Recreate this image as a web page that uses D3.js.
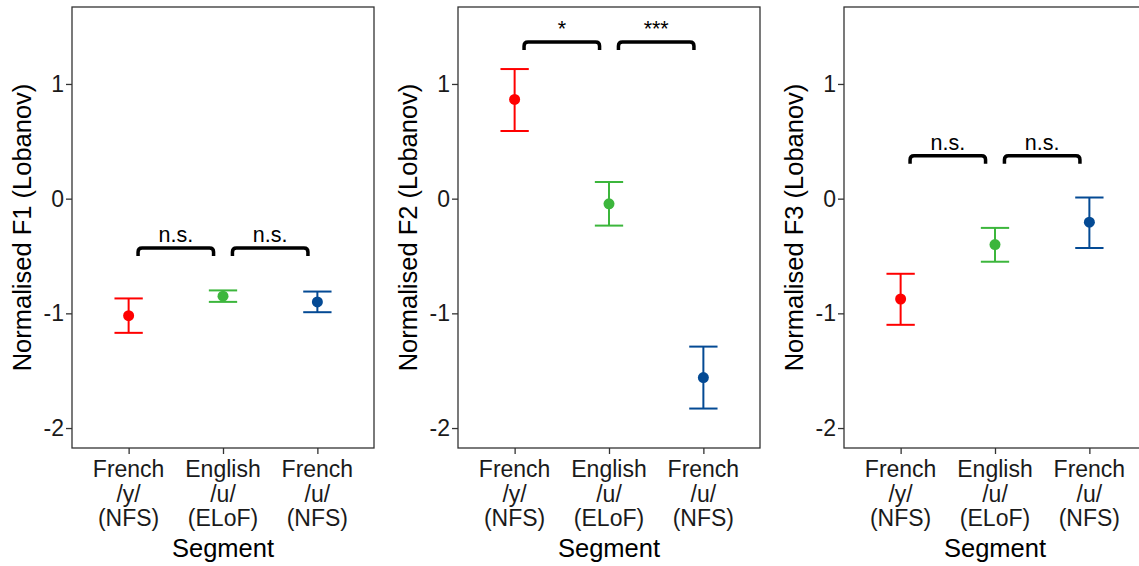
<!DOCTYPE html>
<html>
<head>
<meta charset="utf-8">
<script src="https://cdn.jsdelivr.net/npm/d3@7"></script>
<style>
  body { margin: 0; background: #fff; }
  text { font-family: "Liberation Sans", Arial, sans-serif; }
</style>
</head>
<body>
<div id="chart"></div>
<script>
// categories (one label line per entry)
const segments = [
  ["French", "/y/", "(NFS)"],
  ["English", "/u/", "(ELoF)"],
  ["French", "/u/", "(NFS)"]
]
const segColors = ["#ff0000", "#3cb63c", "#044a94"]
const formants = ["F1", "F2", "F3"]

// means and error bar ends, one array per formant
const meanF1 = [-1.02, -0.85, -0.90]
const lowF1 = [-1.17, -0.90, -0.99]
const highF1 = [-0.87, -0.80, -0.81]

const meanF2 = [0.865, -0.045, -1.56]
const lowF2 = [0.59, -0.235, -1.83]
const highF2 = [1.13, 0.145, -1.29]

const meanF3 = [-0.875, -0.40, -0.205]
const lowF3 = [-1.10, -0.55, -0.43]
const highF3 = [-0.655, -0.255, 0.01]

// significance brackets
const bracketY = [-0.43, 1.365, 0.375]
const bracketLabels = [["n.s.", "n.s."], ["*", "***"], ["n.s.", "n.s."]]

const yTicks = [-2, -1, 0, 1]
const yDomain = [-2.174, 1.671]

const panels = [
  { mean: meanF1, low: lowF1, high: highF1 },
  { mean: meanF2, low: lowF2, high: highF2 },
  { mean: meanF3, low: lowF3, high: highF3 }
]

const w = 1139, h = 566
const panelStep = 386
const plotLeft = 72, plotTop = 7, plotW = 302, plotH = 441

const svg = d3.select('#chart')
  .append('svg')
  .attr('width', w)
  .attr('height', h)

const xScale = d3.scalePoint()
  .domain([0, 1, 2])
  .range([0, plotW])
  .padding(0.6)

const yScale = d3.scaleLinear()
  .domain(yDomain)
  .range([plotH, 0])

panels.forEach((p, k) => {
  const g = svg.append('g')
    .attr('transform', 'translate(' + (plotLeft + k * panelStep) + ',' + plotTop + ')')

  // y axis (plain hyphen minus like the original)
  const yAxis = d3.axisLeft(yScale)
    .tickValues(yTicks)
    .tickFormat(d => String(d))
    .tickSize(6)
    .tickPadding(2)
  g.append('g').call(yAxis)
    .call(a => a.select('.domain').remove())
    .call(a => a.selectAll('.tick line').attr('stroke', '#333').attr('stroke-width', 1.3))
    .call(a => a.selectAll('.tick text').attr('font-size', 23).attr('fill', '#1a1a1a'))

  // x axis
  const xAxis = d3.axisBottom(xScale).tickSize(6).tickFormat('')
  g.append('g')
    .attr('transform', 'translate(0,' + plotH + ')')
    .call(xAxis)
    .call(a => a.select('.domain').remove())
    .call(a => a.selectAll('.tick line').attr('stroke', '#333').attr('stroke-width', 1.3))

  // multi-line category labels
  g.selectAll('.cat')
    .data(segments)
    .enter()
    .append('text')
    .attr('class', 'cat')
    .attr('text-anchor', 'middle')
    .attr('font-size', 23)
    .attr('fill', '#1a1a1a')
    .attr('y', plotH + 29)
    .selectAll('tspan')
    .data((d, i) => d.map(s => ({ s: s, i: i })))
    .enter()
    .append('tspan')
    .attr('x', d => xScale(d.i))
    .attr('dy', (d, j) => j === 0 ? 0 : 24.5)
    .text(d => d.s)

  // panel border
  g.append('rect')
    .attr('width', plotW)
    .attr('height', plotH)
    .attr('fill', 'none')
    .attr('stroke', '#333')
    .attr('stroke-width', 1.3)

  // axis titles
  g.append('text')
    .attr('x', plotW / 2)
    .attr('y', 549.5)
    .attr('text-anchor', 'middle')
    .attr('font-size', 25.5)
    .text('Segment')

  g.append('text')
    .attr('transform', 'translate(' + (-41) + ',' + (plotH / 2) + ') rotate(-90)')
    .attr('text-anchor', 'middle')
    .attr('font-size', 25.5)
    .text('Normalised ' + formants[k] + ' (Lobanov)')

  // error bars
  const rows = p.mean.map((m, i) => ({ i: i, m: m, lo: p.low[i], hi: p.high[i] }))
  const capW = 0.3 * xScale.step()

  const eb = g.selectAll('.eb')
    .data(rows)
    .enter()
    .append('g')
    .attr('stroke', d => segColors[d.i])
    .attr('stroke-width', 2)

  eb.append('line')
    .attr('x1', d => xScale(d.i)).attr('x2', d => xScale(d.i))
    .attr('y1', d => yScale(d.lo)).attr('y2', d => yScale(d.hi))
  eb.append('line')
    .attr('x1', d => xScale(d.i) - capW / 2).attr('x2', d => xScale(d.i) + capW / 2)
    .attr('y1', d => yScale(d.lo)).attr('y2', d => yScale(d.lo))
  eb.append('line')
    .attr('x1', d => xScale(d.i) - capW / 2).attr('x2', d => xScale(d.i) + capW / 2)
    .attr('y1', d => yScale(d.hi)).attr('y2', d => yScale(d.hi))

  g.selectAll('.pt')
    .data(rows)
    .enter()
    .append('circle')
    .attr('cx', d => xScale(d.i))
    .attr('cy', d => yScale(d.m))
    .attr('r', 5.5)
    .attr('fill', d => segColors[d.i])

  // brackets between neighbouring segments
  const inset = 0.1 * xScale.step()
  const by = yScale(bracketY[k])
  bracketLabels[k].forEach((lab, j) => {
    const x1 = xScale(j) + inset
    const x2 = xScale(j + 1) - inset
    const r = 4
    g.append('path')
      .attr('d', 'M' + x1 + ',' + (by + 8) + 'L' + x1 + ',' + (by + r) +
        'Q' + x1 + ',' + by + ' ' + (x1 + r) + ',' + by +
        'L' + (x2 - r) + ',' + by +
        'Q' + x2 + ',' + by + ' ' + x2 + ',' + (by + r) +
        'L' + x2 + ',' + (by + 8))
      .attr('fill', 'none')
      .attr('stroke', '#000')
      .attr('stroke-width', 3.5)

    g.append('text')
      .attr('x', (x1 + x2) / 2)
      .attr('y', by - 6)
      .attr('text-anchor', 'middle')
      .attr('font-size', 21.5)
      .text(lab)
  })
})
</script>
</body>
</html>
